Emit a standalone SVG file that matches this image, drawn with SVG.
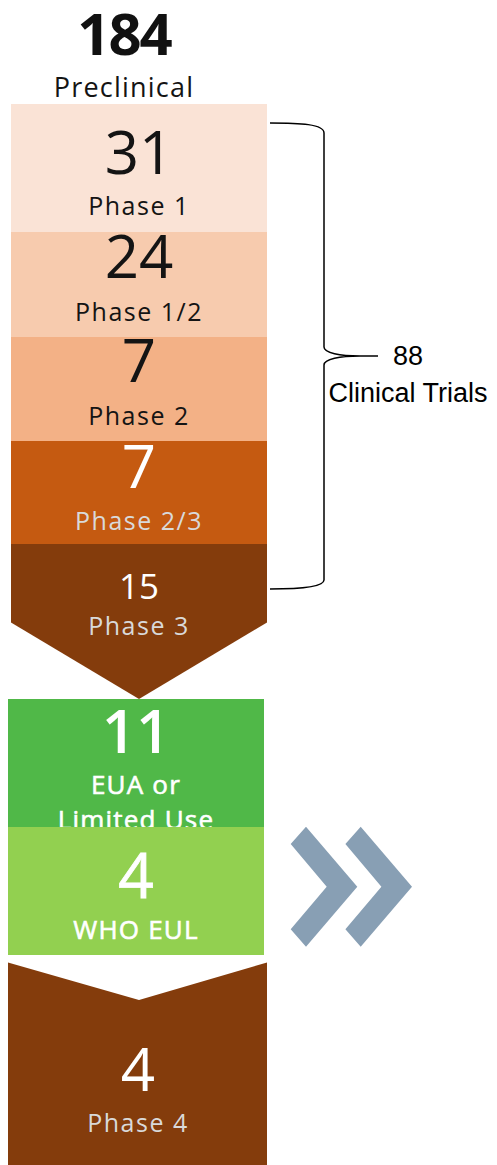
<svg xmlns="http://www.w3.org/2000/svg" width="497" height="1165" viewBox="0 0 497 1165">
<style>
.num{font-family:"Open Sans","Liberation Sans",sans-serif;font-size:60px;text-anchor:middle}
.lbl{font-family:"Open Sans","Liberation Sans",sans-serif;font-size:25px;text-anchor:middle;letter-spacing:1.5px}
.dk{fill:#141414}
.wh{fill:#ffffff}
.gy{fill:#d9d9d9}
.gl{font-family:"Open Sans","Liberation Sans",sans-serif;font-size:26px;text-anchor:middle;fill:#ffffff;stroke:#ffffff;stroke-width:0.6px;letter-spacing:1.2px}
.cal{font-family:"Liberation Sans",sans-serif;font-size:27px;fill:#000}
</style>
<rect width="497" height="1165" fill="#ffffff"/>
<g id="preclinical">
<text x="124" y="55" font-family="Open Sans, Liberation Sans, sans-serif" font-size="58" font-weight="700" text-anchor="middle" letter-spacing="-2" fill="#111">184</text>
<text x="124" y="97" font-family="Open Sans, Liberation Sans, sans-serif" font-size="27" text-anchor="middle" letter-spacing="1.2" fill="#141414">Preclinical</text>
</g>
<g id="phase1">
<rect x="11" y="104" width="256" height="128" fill="#fae3d6"/>
<text class="num dk" x="139" y="174">31</text>
<text class="lbl dk" x="139" y="215">Phase 1</text>
</g>
<g id="phase12">
<rect x="11" y="232" width="256" height="105" fill="#f7cbae"/>
<text class="num dk" x="139" y="278">24</text>
<text class="lbl dk" x="139" y="321">Phase 1/2</text>
</g>
<g id="phase2">
<rect x="11" y="337" width="256" height="104" fill="#f3b186"/>
<text class="num dk" x="139" y="382">7</text>
<text class="lbl dk" x="139" y="425">Phase 2</text>
</g>
<g id="phase23">
<rect x="11" y="441" width="256" height="104" fill="#c55a11"/>
<text class="num wh" x="139" y="488">7</text>
<text class="lbl gy" x="139" y="530">Phase 2/3</text>
</g>
<g id="phase3">
<polygon points="11,544 267,544 267,622.5 139,699 11,622.5" fill="#843c0c"/>
<text class="num wh" x="139" y="599" style="font-size:35px">15</text>
<text class="lbl gy" x="139" y="635">Phase 3</text>
</g>
<g id="eua">
<rect x="8" y="699" width="256" height="128" fill="#50b848"/>
<text class="num wh" x="136" y="753" style="font-weight:600">11</text>
<text class="gl" x="136" y="794">EUA or</text>
<text class="gl" x="136" y="829">Limited Use</text>
</g>
<g id="who">
<rect x="8" y="827" width="256" height="128" fill="#92d050"/>
<text class="num wh" x="136" y="898" style="font-size:62px;stroke:#fff;stroke-width:0.8px">4</text>
<text class="gl" x="136" y="939">WHO EUL</text>
</g>
<g id="phase4">
<polygon points="8,962.5 139,1000 267,962.5 267,1165 8,1165" fill="#843c0c"/>
<text class="num wh" x="138" y="1091">4</text>
<text class="lbl gy" x="138" y="1132">Phase 4</text>
</g>
<g id="connectors">
<path d="M270,123 C300,123 324,124 324,133 L324,347 C324,353 340,356 360,356 L378,356 M360,356 C340,356 324,359 324,365 L324,580 C324,587 300,589 270,589" fill="none" stroke="#000" stroke-width="1.5"/>
</g>
<g id="clinical-trials">
<text class="cal" x="408" y="365" text-anchor="middle">88</text>
<text class="cal" x="408" y="402" text-anchor="middle">Clinical Trials</text>
</g>
<g id="chevrons" fill="#889fb4">
<polygon points="290.7,844 306,826.7 357.3,886.7 306,946.7 290.7,929.3 326.7,886.7"/>
<polygon points="345.4,844 360.7,826.7 412,886.7 360.7,946.7 345.4,929.3 381.4,886.7"/>
</g>
</svg>
